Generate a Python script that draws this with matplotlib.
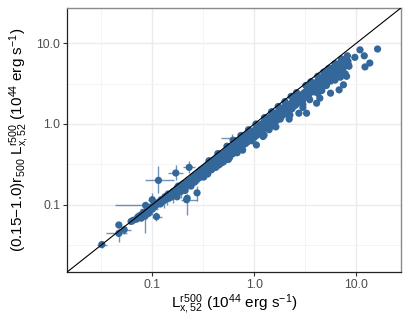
import matplotlib
matplotlib.use("Agg")
import matplotlib.pyplot as plt
import numpy as np

# ---------------- data ----------------
x_lum = [
    0.032, 0.047, 0.047, 0.053, 0.062, 0.065, 0.070, 0.072, 0.075, 0.078,
    0.080, 0.082, 0.085, 0.086, 0.088, 0.090, 0.092, 0.095, 0.098, 0.100,
    0.100, 0.103, 0.105, 0.108, 0.110, 0.112, 0.115, 0.118, 0.120, 0.122,
    0.125, 0.128, 0.130, 0.133, 0.135, 0.138, 0.140, 0.143, 0.145, 0.148,
    0.150, 0.155, 0.160, 0.160, 0.165, 0.170, 0.170, 0.175, 0.175, 0.180,
    0.180, 0.185, 0.190, 0.190, 0.195, 0.200, 0.200, 0.205, 0.210, 0.210,
    0.215, 0.217, 0.220, 0.220, 0.225, 0.230, 0.230, 0.235, 0.240, 0.240,
    0.245, 0.250, 0.250, 0.255, 0.260, 0.260, 0.265, 0.270, 0.275, 0.280,
    0.280, 0.285, 0.290, 0.295, 0.300, 0.300, 0.310, 0.310, 0.320, 0.320,
    0.330, 0.330, 0.340, 0.340, 0.350, 0.350, 0.360, 0.370, 0.370, 0.380,
    0.380, 0.390, 0.400, 0.400, 0.410, 0.420, 0.430, 0.440, 0.450, 0.450,
    0.460, 0.470, 0.480, 0.490, 0.500, 0.500,
    0.52, 0.53, 0.55, 0.556, 0.56, 0.58, 0.58, 0.60, 0.60, 0.62,
    0.62, 0.63, 0.65, 0.65, 0.67, 0.68, 0.70, 0.70, 0.72, 0.73,
    0.75, 0.76, 0.77, 0.78, 0.80, 0.80, 0.82, 0.84, 0.85, 0.88,
    0.90, 0.90, 0.93, 0.95, 0.97, 1.00,
    1.02, 1.05, 1.05, 1.08, 1.10, 1.12, 1.15, 1.18, 1.20, 1.22,
    1.25, 1.25, 1.30, 1.32, 1.35, 1.40, 1.40, 1.45, 1.50, 1.50,
    1.55, 1.60, 1.63, 1.65, 1.70, 1.75, 1.80, 1.80, 1.85, 1.90,
    1.95, 2.00, 2.05, 2.10, 2.20, 2.24, 2.30, 2.35, 2.40, 2.50,
    2.50, 2.60, 2.70, 2.74, 2.80, 2.90, 3.00, 3.00,
    3.10, 3.20, 3.26, 3.30, 3.40, 3.50, 3.50, 3.60, 3.70, 3.80,
    3.90, 4.00, 4.09, 4.10, 4.20, 4.30, 4.40, 4.40, 4.50, 4.60,
    4.70, 4.80, 4.90, 5.00, 5.00, 5.20, 5.30, 5.50, 5.50, 5.60,
    5.70, 5.80, 6.00, 6.00, 6.20, 6.50, 6.50, 6.80, 6.80, 7.00,
    7.00, 7.20, 7.50, 7.50, 7.50, 7.80, 8.05, 8.00, 8.20, 8.30,
    8.40, 8.50,
    9.7, 10.9, 12.0, 13.6, 12.2, 16.2,
    0.32, 0.35, 0.38, 0.42, 0.45, 0.48, 0.52, 0.55, 0.58, 0.62,
    0.66, 0.70, 0.74, 0.78, 0.82, 0.86, 0.92, 0.96, 1.00, 1.05,
    1.10, 1.16, 1.22, 1.28, 1.35, 1.42, 1.50, 1.58, 1.66, 1.75,
    1.85, 1.95, 2.05, 2.15, 2.25, 2.40, 2.55, 2.70, 2.85, 3.00,
    0.36, 0.44, 0.54, 0.64, 0.74, 0.88, 1.04, 1.26, 1.48, 1.72,
    2.00, 2.30, 2.60, 3.20, 3.60, 4.20, 4.80, 5.40, 6.20, 7.20,
    0.21, 0.24, 0.27, 0.30, 0.34, 0.39, 0.44, 0.50, 0.57, 0.68,
    3.40, 3.80, 4.20, 4.60, 5.10, 5.60, 6.30, 7.00, 3.00, 2.20,
]
y_lum = [
    0.032, 0.056, 0.044, 0.049, 0.062, 0.064, 0.066, 0.070, 0.073, 0.068,
    0.077, 0.080, 0.072, 0.098, 0.083, 0.086, 0.078, 0.090, 0.094, 0.115,
    0.088, 0.092, 0.100, 0.097, 0.071, 0.105, 0.200, 0.108, 0.102, 0.115,
    0.110, 0.117, 0.112, 0.125, 0.118, 0.128, 0.120, 0.135, 0.128, 0.122,
    0.135, 0.125, 0.145, 0.130, 0.140, 0.247, 0.150, 0.160, 0.125, 0.155,
    0.170, 0.150, 0.165, 0.145, 0.175, 0.160, 0.180, 0.170, 0.150, 0.185,
    0.175, 0.115, 0.190, 0.120, 0.180, 0.290, 0.200, 0.190, 0.205, 0.170,
    0.210, 0.200, 0.220, 0.215, 0.190, 0.230, 0.220, 0.235, 0.140, 0.240,
    0.210, 0.250, 0.230, 0.260, 0.245, 0.270, 0.260, 0.230, 0.280, 0.250,
    0.290, 0.270, 0.300, 0.260, 0.310, 0.290, 0.320, 0.300, 0.330, 0.340,
    0.290, 0.330, 0.350, 0.320, 0.360, 0.340, 0.380, 0.360, 0.390, 0.330,
    0.400, 0.370, 0.420, 0.390, 0.430, 0.360,
    0.45, 0.42, 0.47, 0.363, 0.44, 0.50, 0.45, 0.52, 0.47, 0.63,
    0.50, 0.54, 0.56, 0.48, 0.58, 0.52, 0.60, 0.55, 0.62, 0.50,
    0.64, 0.58, 0.474, 0.66, 0.62, 0.70, 0.68, 0.60, 0.74, 0.70,
    0.78, 0.66, 0.75, 0.62, 0.80, 0.75,
    0.85, 0.55, 0.80, 0.90, 0.75, 0.95, 0.85, 1.00, 0.90, 0.70,
    0.73, 1.05, 0.95, 1.15, 1.00, 1.20, 0.85, 1.10, 1.25, 0.95,
    1.20, 1.35, 0.92, 1.10, 1.40, 1.25, 1.45, 1.15, 1.55, 1.30,
    1.60, 1.45, 1.70, 1.35, 1.60, 1.29, 1.80, 1.55, 1.90, 1.70,
    2.05, 1.85, 2.10, 1.36, 1.95, 2.30, 2.10, 1.75,
    2.45, 2.20, 1.36, 2.60, 2.35, 2.70, 2.00, 2.50, 2.90, 2.60,
    3.10, 2.80, 1.81, 3.30, 2.40, 3.00, 2.09, 3.50, 3.20, 3.70,
    2.90, 3.40, 4.00, 3.60, 4.40, 3.30, 3.90, 4.20, 4.60, 2.41,
    3.60, 4.00, 4.50, 5.00, 3.50, 4.10, 5.20, 2.65, 4.60, 3.80,
    5.80, 4.40, 3.06, 5.00, 6.20, 4.20, 3.90, 5.60, 7.00, 6.00,
    5.40, 5.20,
    6.7, 8.3, 7.0, 5.7, 5.1, 8.5,
    0.22, 0.24, 0.27, 0.29, 0.31, 0.33, 0.37, 0.39, 0.40, 0.43,
    0.46, 0.49, 0.52, 0.55, 0.57, 0.60, 0.64, 0.67, 0.68, 0.72,
    0.78, 0.82, 0.86, 0.90, 0.92, 0.98, 1.02, 1.08, 1.16, 1.20,
    1.25, 1.32, 1.40, 1.48, 1.50, 1.65, 1.72, 1.85, 1.95, 2.00,
    0.35, 0.43, 0.53, 0.62, 0.72, 0.85, 1.00, 1.20, 1.42, 1.65,
    1.90, 2.20, 2.45, 3.00, 3.35, 3.90, 4.40, 4.90, 5.60, 6.40,
    0.16, 0.18, 0.20, 0.22, 0.25, 0.28, 0.32, 0.34, 0.38, 0.44,
    2.20, 2.50, 2.70, 2.60, 3.00, 3.40, 3.80, 4.50, 1.60, 1.15,
]

# visible error bars
eb_x   = [0.032, 0.047, 0.086, 0.115, 0.170, 0.230, 0.217, 0.100, 0.100, 0.085, 0.275, 0.600, 0.110, 0.053, 0.065, 0.160, 0.190, 0.250, 0.130, 0.140, 0.075]
eb_y   = [0.032, 0.044, 0.098, 0.200, 0.247, 0.290, 0.115, 0.115, 0.088, 0.072, 0.140, 0.680, 0.071, 0.049, 0.064, 0.130, 0.145, 0.200, 0.112, 0.120, 0.073]
eb_xlo = [0.029, 0.035, 0.043, 0.085, 0.143, 0.200, 0.190, 0.090, 0.075, 0.078, 0.260, 0.470, 0.100, 0.045, 0.058, 0.150, 0.175, 0.235, 0.115, 0.125, 0.068]
eb_xhi = [0.036, 0.056, 0.110, 0.165, 0.200, 0.260, 0.275, 0.112, 0.115, 0.093, 0.290, 0.750, 0.125, 0.062, 0.072, 0.172, 0.205, 0.265, 0.148, 0.160, 0.085]
eb_ylo = [0.029, 0.034, 0.090, 0.140, 0.200, 0.245, 0.075, 0.075, 0.080, 0.045, 0.110, 0.600, 0.062, 0.043, 0.057, 0.105, 0.120, 0.170, 0.090, 0.100, 0.066]
eb_yhi = [0.035, 0.052, 0.106, 0.300, 0.310, 0.350, 0.135, 0.140, 0.097, 0.085, 0.170, 0.760, 0.080, 0.056, 0.071, 0.160, 0.175, 0.235, 0.135, 0.150, 0.081]

x_ticks = [0.1, 1.0, 10.0]
x_tick_labels = ["0.1", "1.0", "10.0"]
minor_grid = [10 ** -1.5, 10 ** -0.5, 10 ** 0.5]

# ---------------- style ----------------
plt.rcParams["font.family"] = ["Liberation Sans", "DejaVu Sans"]
plt.rcParams["mathtext.fontset"] = "custom"
plt.rcParams["mathtext.rm"] = "Liberation Sans"
plt.rcParams["mathtext.it"] = "Liberation Sans"
plt.rcParams["mathtext.default"] = "regular"

pt_color = "#34679A"

fig = plt.figure(figsize=(4.09, 3.27), dpi=100)
ax = fig.add_axes([0.164, 0.168, 0.816, 0.8075])
ax.set_xscale("log")
ax.set_yscale("log")
lo, hi = 0.0146, 27.4
ax.set_xlim(lo, hi)
ax.set_ylim(lo, hi)

# grid
for v in x_ticks:
    ax.axvline(v, color="#EBEBEB", lw=1.0, zorder=0)
    ax.axhline(v, color="#EBEBEB", lw=1.0, zorder=0)
for v in minor_grid:
    ax.axvline(v, color="#F3F3F3", lw=0.6, zorder=0)
    ax.axhline(v, color="#F3F3F3", lw=0.6, zorder=0)

# error bars
ex = np.array(eb_x); ey = np.array(eb_y)
xerr = np.vstack([ex - np.array(eb_xlo), np.array(eb_xhi) - ex])
yerr = np.vstack([ey - np.array(eb_ylo), np.array(eb_yhi) - ey])
ax.errorbar(ex, ey, xerr=xerr, yerr=yerr, fmt="none", ecolor=pt_color,
            alpha=0.7, elinewidth=1.0, capsize=0, zorder=2)

ax.scatter(x_lum, y_lum, s=27, color=pt_color, edgecolors="none", zorder=3)

ax.axline((1, 1), (10, 10), color="black", lw=0.8, zorder=4)

ax.set_xticks(x_ticks)
ax.set_xticklabels(x_tick_labels)
ax.set_yticks(x_ticks)
ax.set_yticklabels(x_tick_labels)
ax.minorticks_off()
ax.tick_params(axis="both", which="major", length=3, width=0.8, color="#333333",
               labelsize=8.8, labelcolor="#4D4D4D", pad=2)

for side in ["left", "bottom"]:
    ax.spines[side].set_color("#222222")
    ax.spines[side].set_linewidth(0.9)
for side in ["top", "right"]:
    ax.spines[side].set_color("#8A8A8A")
    ax.spines[side].set_linewidth(1.0)

ax.set_xlabel(r"$L_{x,52}^{r500}$ (10$^{44}$ erg s$^{-1}$)", fontsize=11, labelpad=1)
ax.set_ylabel(r"(0.15$-$1.0)r$_{500}$ $L_{x,52}^{r500}$ (10$^{44}$ erg s$^{-1}$)",
              fontsize=11, labelpad=3)

fig.savefig("out.png", dpi=100)
